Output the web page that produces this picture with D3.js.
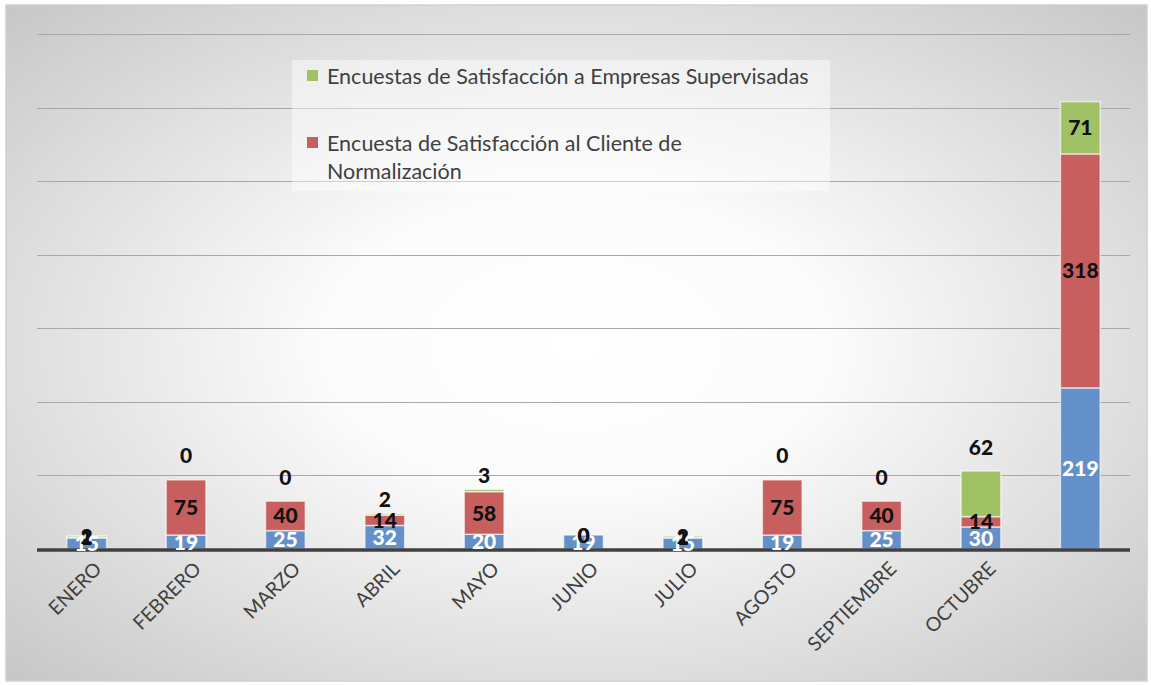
<!DOCTYPE html>
<html>
<head>
<meta charset="utf-8">
<script src="https://cdn.jsdelivr.net/npm/d3@7"></script>
<style>
  html, body { margin: 0; padding: 0; background: #ffffff; }
  svg { display: block; }
</style>
</head>
<body>
<svg id="chart" width="1151" height="685"></svg>
<script>
// Monthly survey counts, stacked; last column is the accumulated total
const categories = ["ENERO", "FEBRERO", "MARZO", "ABRIL", "MAYO", "JUNIO",
  "JULIO", "AGOSTO", "SEPTIEMBRE", "OCTUBRE", ""];
const seriesNames = [
  "Encuesta (base)",
  "Encuesta de Satisfacción al Cliente de Normalización",
  "Encuestas de Satisfacción a Empresas Supervisadas"
];
const blueValues  = [15, 19, 25, 32, 20, 19, 15, 19, 25, 30, 219];
const redValues   = [1, 75, 40, 14, 58, 0, 1, 75, 40, 14, 318];
const greenValues = [2, 0, 0, 2, 3, 0, 2, 0, 0, 62, 71];
const yTicks = [0, 100, 200, 300, 400, 500, 600, 700];

const W = 1151, H = 685;
const svg = d3.select("#chart");
const defs = svg.append("defs");

// soft radial backdrop
const grad = defs.append("radialGradient")
  .attr("id", "bg").attr("cx", "50%").attr("cy", "50%").attr("r", "75%");
grad.append("stop").attr("offset", "0%").attr("stop-color", "#ffffff");
grad.append("stop").attr("offset", "30%").attr("stop-color", "#fbfbfb");
grad.append("stop").attr("offset", "100%").attr("stop-color", "#c2c2c2");

svg.append("rect").attr("x", 6).attr("y", 5).attr("width", 1141).attr("height", 676)
  .attr("fill", "url(#bg)").attr("stroke", "#d0d0d0").attr("stroke-width", 1.5);

const plot = { left: 37, right: 1130, top: 34, bottom: 549 };

const x = d3.scaleBand().domain(d3.range(categories.length))
  .range([plot.left, plot.right]).paddingInner(0.6).paddingOuter(0.3);
const y = d3.scaleLinear().domain([0, 700]).range([plot.bottom, plot.top]);

// horizontal gridlines
svg.append("g").selectAll("line").data(yTicks.slice(1)).join("line")
  .attr("x1", plot.left).attr("x2", plot.right)
  .attr("y1", d => Math.round(y(d)) + 0.5).attr("y2", d => Math.round(y(d)) + 0.5)
  .attr("stroke", "#a8a8a8").attr("stroke-width", 1);

// stacked data
const rows = categories.map((c, i) => ({ i, a: blueValues[i], b: redValues[i], c: greenValues[i] }));
const stack = d3.stack().keys(["a", "b", "c"]);
const layers = stack(rows);
const colors = ["#6490c9", "#c75f5e", "#a0c264"];

const bars = svg.append("g");
layers.forEach((layer, k) => {
  bars.append("g").selectAll("rect").data(layer).join("rect")
    .attr("x", d => x(d.data.i))
    .attr("width", x.bandwidth())
    .attr("y", d => y(d[1]))
    .attr("height", d => Math.max(0, y(d[0]) - y(d[1])))
    .attr("fill", colors[k])
    .attr("stroke", "rgba(255,255,255,0.6)")
    .attr("stroke-width", 1.5);
});

// category axis
const xAxis = d3.axisBottom(x).tickFormat(i => categories[i]).tickSize(0);
const gx = svg.append("g").attr("transform", `translate(0,${plot.bottom})`).call(xAxis);
gx.select(".domain").remove();
gx.selectAll("text")
  .attr("font-family", "Lato, 'Open Sans', sans-serif")
  .attr("font-size", 19.5).attr("fill", "#404040")
  .attr("text-anchor", "end")
  .attr("dy", 0)
  .attr("transform", "translate(14,19) rotate(-45)");

svg.append("line").attr("x1", plot.left).attr("x2", plot.right)
  .attr("y1", plot.bottom + 1).attr("y2", plot.bottom + 1)
  .attr("stroke", "#404040").attr("stroke-width", 3.5);

// data labels
const lab = svg.append("g")
  .attr("font-family", "Lato, 'Open Sans', sans-serif")
  .attr("font-weight", "900").attr("font-size", 21)
  .attr("text-anchor", "middle");
const lastIdx = categories.length - 1;

layers.forEach((layer, k) => {
  lab.append("g").selectAll("text").data(layer).join("text")
    .attr("x", d => x(d.data.i) + x.bandwidth() / 2)
    .attr("y", d => {
      const mid = (y(d[0]) + y(d[1])) / 2;
      const total = d.data.a + d.data.b + d.data.c;
      if (k === 2 && d.data.i !== lastIdx && total > 40) {
        return y(d[1]) - (d.data.c > 0 && d.data.c < 10 ? 14 : 24);
      }
      return mid;
    })
    .attr("dy", "0.36em")
    .attr("fill", k === 0 ? "#ffffff" : "#111111")
    .text(d => d.data[["a", "b", "c"][k]]);
});

// legend
const lg = svg.append("g");
lg.append("rect").attr("x", 292).attr("y", 60).attr("width", 538).attr("height", 131)
  .attr("fill", "rgba(255,255,255,0.45)");
const legendItems = [
  { color: colors[2], lines: [seriesNames[2]], y: 76 },
  { color: colors[1], lines: ["Encuesta de Satisfacción al Cliente de", "Normalización"], y: 143 }
];
legendItems.forEach(it => {
  lg.append("rect").attr("x", 307).attr("y", it.y - 6).attr("width", 11).attr("height", 11)
    .attr("fill", it.color);
  const t = lg.append("text").attr("font-family", "Lato, 'Open Sans', sans-serif")
    .attr("font-size", 21.5).attr("fill", "#404040");
  it.lines.forEach((ln, j) => {
    t.append("tspan").attr("x", 327).attr("y", it.y + 8 + j * 28).text(ln);
  });
});
</script>
</body>
</html>
